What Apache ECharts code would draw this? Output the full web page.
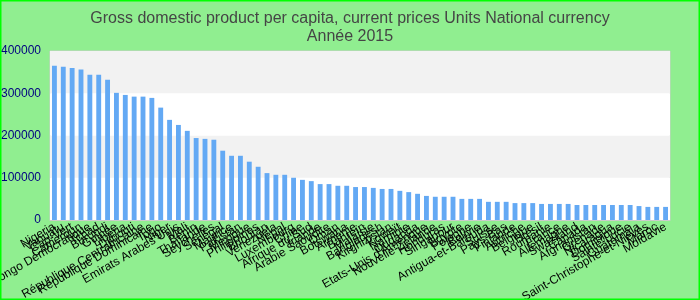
<!DOCTYPE html>
<html>
<head>
<meta charset="utf-8">
<script src="https://cdn.jsdelivr.net/npm/echarts@6/dist/echarts.min.js"></script>
<style>
html,body{margin:0;padding:0;background:#90ee90;}
#chart{width:700px;height:300px;}
</style>
</head>
<body>
<div id="chart"></div>
<script>
const titleText = "Gross domestic product per capita, current prices Units National currency";
const subtitleText = "Année 2015";

const categories = [
  "Nigeria","Vanuatu","Cap-Vert","Cameroun","Congo Démocratique","Tchad","Burundi","Guinée","Libéria","Djibouti",
  "République Centrafricaine","République Dominicaine","Togo","Niger","Emirats Arabes Unis","Mali","Bénin","Thaïlande","Seychelles","Sénégal",
  "Maurice","Pakistan","Mexique","Philippines","Bhoutan","Venezuela","Népal","Luxembourg","Chine","Afrique du Sud",
  "Irlande","Arabie Saoudite","Oman","Botswana","Arménie","Bahreïn","Malaisie","Bangladesh","Kirghizistan","Koweït",
  "Namibie","Ouganda","Etats-Unis d'Amérique","Nouvelle-Zélande","Honduras","Singapour","Egypte","Pologne","Bolivie","Antigua-et-Barbuda",
  "Suisse","Pays-Bas","Finlande","Autriche","Belgique","Brésil","Roumanie","France","Allemagne","Swaziland",
  "Canada","Afghanistan","Grenade","Nicaragua","Dominique","Sainte-Lucie","Guatemala","Saint-Christophe-et-Niévès","Maroc","Moldavie"
];

const values = [
  365000,363000,360000,356000,344000,344000,332000,301000,296000,292000,
  292000,289000,266000,237000,225000,211000,194000,192000,190000,164000,
  152000,152000,138000,126000,111000,107000,107000,100000,95000,92000,
  85000,85000,81000,81000,78000,78000,76000,73500,73500,69000,
  66000,62000,57000,55000,55000,55000,50000,50000,50000,43000,
  43000,43000,40000,40000,40000,38000,38000,38000,38000,35500,
  35500,35500,35500,35500,35500,35500,33000,31000,31000,31000
];

const yTicks = [0, 100000, 200000, 300000, 400000];

const chart = echarts.init(document.getElementById('chart'), null, {renderer:'canvas'});
const titleFont = {fontFamily:'Liberation Sans, Arial, sans-serif', fontSize:16, fill:'#454545'};
chart.setOption({
  backgroundColor: '#90ee90',
  animation: false,
  graphic: [
    {type:'text', x:350, y:19, style:Object.assign({text:titleText, align:'center', verticalAlign:'middle'}, titleFont), silent:true},
    {type:'text', x:350, y:37, style:Object.assign({text:subtitleText, align:'center', verticalAlign:'middle'}, titleFont), silent:true},
    {type:'rect', shape:{x:0,y:0,width:700,height:300}, style:{fill:'none', stroke:'#00ff00', lineWidth:3}, silent:true, z:100}
  ],
  grid: {left:50, right:30, top:51, bottom:80, outerBoundsMode:'none', containLabel:false, show:true, backgroundColor:'#ffffff', borderColor:'#cccccc', borderWidth:1},
  xAxis: {
    type:'category', data: categories,
    axisLine:{lineStyle:{color:'#cccccc'}},
    axisTick:{show:false},
    axisLabel:{interval:0, rotate:30, fontSize:12, color:'#000', fontFamily:'Liberation Sans, sans-serif', margin:6}
  },
  yAxis: {
    type:'value', min: yTicks[0], max: yTicks[yTicks.length-1], interval: yTicks[1]-yTicks[0],
    axisLine:{show:false}, axisTick:{show:false},
    splitLine:{show:false},
    splitArea:{show:true, areaStyle:{color:['#ffffff','#f2f2f2']}},
    axisLabel:{color:'#000080', fontSize:12, margin:9, formatter: v => String(v)}
  },
  series: [{type:'bar', data: values, barWidth:'55%', itemStyle:{color:'#63a9f4'}}]
});
</script>
</body>
</html>
